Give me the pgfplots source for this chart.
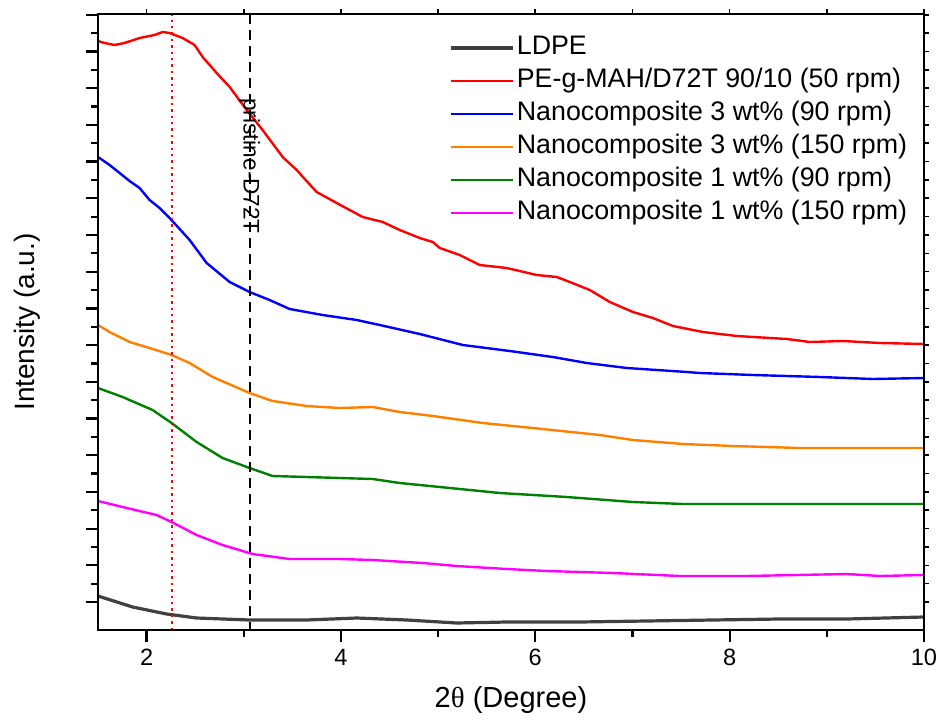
\documentclass[border=0pt]{standalone}
\usepackage{pgfplots}
\pgfplotsset{compat=1.18}
\usepackage{fontspec}
\setmainfont{Liberation Sans}
\newfontfamily\greekserif{Liberation Serif}
\definecolor{ldpe}{RGB}{64,64,64}
\definecolor{orng}{RGB}{255,128,0}
\definecolor{grn}{RGB}{0,128,0}
\definecolor{mgnt}{RGB}{255,0,255}
\begin{document}
\begin{tikzpicture}
\begin{axis}[
  scale only axis, width=413pt, height=308pt,
  at={(0,0)}, anchor=south west,
  xmin=1.5, xmax=10, ymin=0, ymax=616,
  xtick={2,4,6,8,10}, minor x tick num=1,
  ytick={28,64.7,...,616}, minor y tick num=1,
  yticklabels={},
  tick pos=left, tick align=outside,
  major tick length=6pt, minor tick length=3.5pt,
  tick style={black, line width=1.1pt},
  axis line style={line width=1.2pt},
  /pgf/number format/assume math mode=true,
  ticklabel style={font=\fontsize{11.8}{14}\selectfont},
  xlabel={2{\greekserif θ} (Degree)},
  ylabel={Intensity (a.u.)},
  xlabel style={font=\fontsize{14.5}{17}\selectfont, at={(axis description cs:0.5,-0.1136)}, anchor=center},
  ylabel style={font=\fontsize{14}{17}\selectfont, at={(axis description cs:-0.086,0.5)}, anchor=center},
  legend cell align=left,
  legend style={draw=none, fill=none, at={(0.418,0.978)}, anchor=north west,
    font=\fontsize{13.4}{16}\selectfont, row sep=0.5pt,
    nodes={inner sep=1pt, text height=10.5pt, text depth=3.5pt}},
  legend image code/.code={\draw[#1] (0pt,0pt) -- (31pt,0pt);},
  every axis plot/.append style={line width=1.2pt},
]
\addplot[ldpe, line width=1.6pt] coordinates {
(1.5,34) (1.856,23) (2.206,16) (2.515,12) (3.060,10) (3.647,10) (4.162,12) (4.677,10)
(5.192,7) (5.707,8) (6.458,8) (7.828,10) (8.517,11) (9.207,11) (10,13)};
\addlegendentry{LDPE}
\addplot[red] coordinates {
(1.5,589) (1.568,587) (1.671,585) (1.773,587) (1.928,592) (2.082,595) (2.165,598) (2.237,597)
(2.371,592) (2.494,585) (2.577,573) (2.721,557) (2.855,543) (3.030,520) (3.194,500) (3.400,473)
(3.544,460) (3.750,438) (3.956,427) (4.224,413) (4.430,408) (4.605,400) (4.811,392) (4.945,388)
(5.017,382) (5.223,375) (5.429,365) (5.707,362) (6.015,355) (6.221,353) (6.355,348) (6.561,340)
(6.767,328) (7.004,318) (7.210,312) (7.416,304) (7.725,298) (8.075,294) (8.590,291) (8.826,288)
(9.166,289) (9.547,287) (10,286)};
\addlegendentry{PE-g-MAH/D72T 90/10 (50 rpm)}
\addplot[blue] coordinates {
(1.5,473) (1.619,465) (1.722,457) (1.825,449) (1.928,442) (2.031,430) (2.134,422) (2.237,412)
(2.443,390) (2.618,367) (2.855,348) (3.060,338) (3.266,330) (3.472,321) (3.812,315) (4.162,310)
(4.399,305) (4.811,296) (5.254,285) (5.737,279) (6.180,273) (6.530,267) (6.942,262) (7.560,258)
(7.694,257) (8.239,255) (8.929,253) (9.475,251) (10,252)};
\addlegendentry{Nanocomposite 3 wt\% (90 rpm)}
\addplot[orng] coordinates {
(1.5,305) (1.619,298) (1.825,288) (2.031,282) (2.257,275) (2.443,267) (2.680,253) (3.060,237)
(3.297,229) (3.647,224) (3.987,222) (4.327,223) (4.605,218) (4.945,214) (5.459,207) (5.974,202)
(6.664,195) (7.004,190) (7.519,186) (8.033,184) (8.723,182) (9.413,182) (10,182)};
\addlegendentry{Nanocomposite 3 wt\% (150 rpm)}
\addplot[grn] coordinates {
(1.5,242) (1.753,233) (2.062,220) (2.257,207) (2.515,188) (2.782,172) (3.060,162) (3.297,154)
(3.647,153) (3.987,152) (4.327,151) (4.605,147) (5.120,142) (5.634,137) (6.324,133) (7.004,128)
(7.519,126) (8.384,126) (9.063,126) (10,126)};
\addlegendentry{Nanocomposite 1 wt\% (90 rpm)}
\addplot[mgnt] coordinates {
(1.5,129) (1.753,123) (2.103,115) (2.257,108) (2.515,95) (2.782,85) (3.091,76) (3.472,71)
(3.987,71) (4.327,70) (4.842,67) (5.192,64) (5.707,61) (6.118,59) (6.798,57) (7.488,54)
(8.178,54) (9.207,56) (9.547,54) (10,55)};
\addlegendentry{Nanocomposite 1 wt\% (150 rpm)}
\addplot[red, dotted, line width=1pt, forget plot] coordinates {(2.26,0) (2.26,616)};
\addplot[black, dash pattern=on 5pt off 3pt, line width=1pt, forget plot] coordinates {(3.06,-2) (3.06,616)};
\node[rotate=-90, font=\fontsize{11.3}{13}\selectfont, fill=none, inner sep=0pt] at (axis cs:3.06,464) {pristine-D72T};
\end{axis}
\begin{axis}[
  scale only axis, width=413pt, height=308pt,
  at={(0,0)}, anchor=south west,
  xmin=1.5, xmax=10, ymin=0, ymax=616,
  xtick={2,4,6,8,10}, minor x tick num=1,
  ytick={28,64.7,...,616}, minor y tick num=1,
  xticklabels={}, yticklabels={},
  tick pos=right, tick align=outside,
  major tick length=2.5pt, minor tick length=2.5pt,
  tick style={black, line width=0.8pt},
  axis line style={line width=1.2pt},
]
\end{axis}
\pgfresetboundingbox
\path[use as bounding box] (-49pt,-47pt) rectangle (419.5pt,315pt);
\end{tikzpicture}
\end{document}
